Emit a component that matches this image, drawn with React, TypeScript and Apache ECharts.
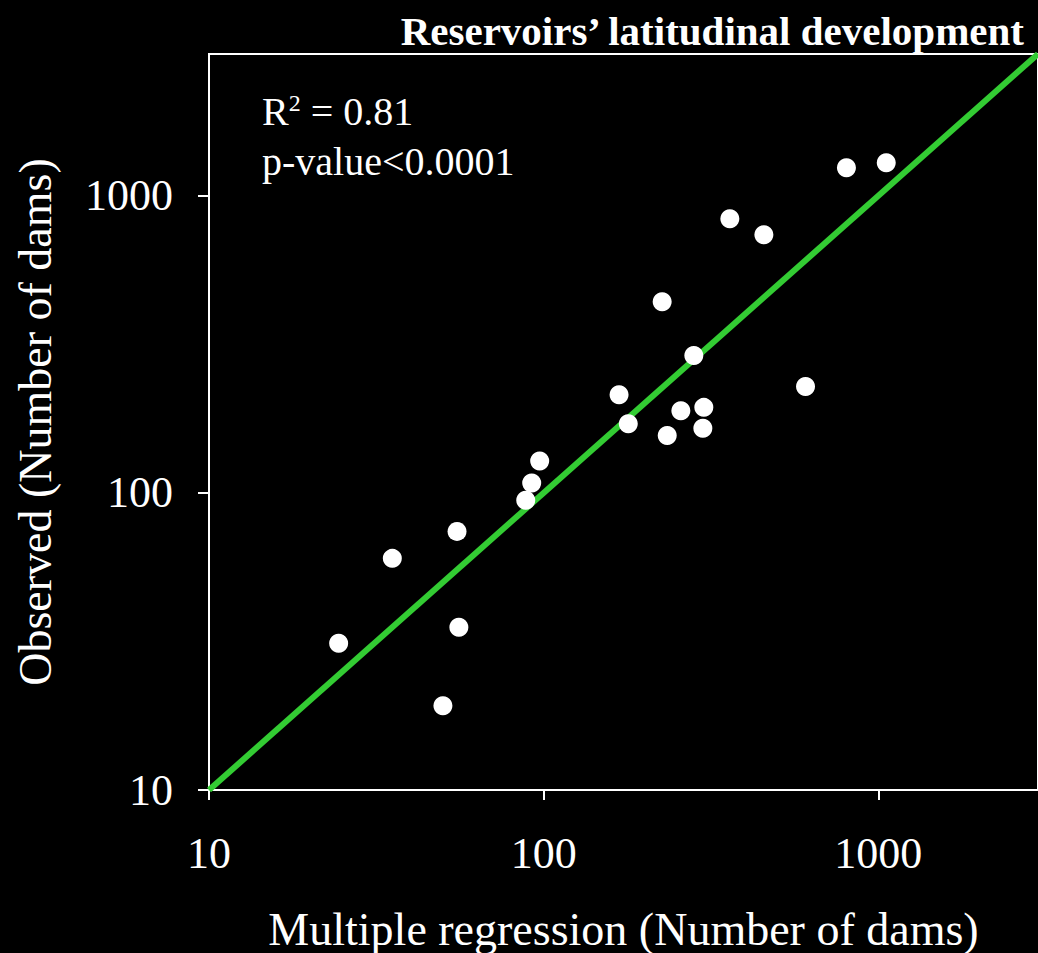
import React, { useEffect, useRef } from "react";
import * as echarts from "echarts";

const predicted = [24.4, 35.3, 50.0, 55.1, 55.8, 88.4, 92.1, 97.3, 168, 179, 234, 257, 301, 299, 281, 226, 360, 455, 606, 803, 1056];
const observed = [31.2, 60.2, 19.2, 74.2, 35.3, 94.4, 108, 128, 214, 171, 156, 189, 194, 165, 290, 440, 837, 739, 228, 1242, 1291];
const fitLine = [[10, 10], [3000, 3000]];
const tickValues = [10, 100, 1000];

const FONT = "'Liberation Serif', 'Times New Roman', serif";

export default function App() {
  const ref = useRef<HTMLDivElement>(null);
  useEffect(() => {
    document.body.style.margin = "0";
    document.body.style.background = "#000";
    const chart = echarts.init(ref.current!, null, { renderer: "svg" });
    const points = predicted.map((x, i) => [x, observed[i]]);
    const fmt = (v: number) => String(Math.round(v));
    chart.setOption({
      animation: false,
      backgroundColor: "#000000",
      title: {
        text: "Reservoirs\u2019 latitudinal development",
        right: 6,
        top: 5,
        textStyle: { color: "#fff", fontFamily: FONT, fontWeight: "bold", fontSize: 41 },
      },
      grid: {
        left: 209,
        right: 0,
        top: 54,
        bottom: 163,
        outerBoundsMode: "none",
        containLabel: false,
        show: true,
        borderColor: "#fff",
        borderWidth: 2,
        backgroundColor: "transparent",
      },
      xAxis: {
        type: "log",
        logBase: 10,
        min: 10,
        max: 3000,
        name: "Multiple regression (Number of dams)",
        nameLocation: "middle",
        nameGap: 116,
        nameTextStyle: { color: "#fff", fontFamily: FONT, fontSize: 46 },
        axisLine: { lineStyle: { color: "#fff", width: 2 } },
        axisTick: { show: true, length: 10, lineStyle: { color: "#fff", width: 2 }, customValues: tickValues },
        axisLabel: { color: "#fff", fontFamily: FONT, fontSize: 44, margin: 41, customValues: tickValues, formatter: fmt },
        splitLine: { show: false },
        minorTick: { show: false },
      },
      yAxis: {
        type: "log",
        logBase: 10,
        min: 10,
        max: 3000,
        name: "Observed (Number of dams)",
        nameLocation: "middle",
        nameGap: 151,
        nameTextStyle: { color: "#fff", fontFamily: FONT, fontSize: 46 },
        axisLine: { lineStyle: { color: "#fff", width: 2 } },
        axisTick: { show: true, length: 11, lineStyle: { color: "#fff", width: 2 }, customValues: tickValues },
        axisLabel: { color: "#fff", fontFamily: FONT, fontSize: 44, margin: 36, customValues: tickValues, formatter: fmt },
        splitLine: { show: false },
      },
      series: [
        {
          type: "line",
          data: fitLine,
          symbol: "none",
          lineStyle: { color: "#33cc33", width: 6 },
          z: 2,
        },
        {
          type: "scatter",
          data: points,
          symbol: "circle",
          symbolSize: 19,
          itemStyle: { color: "#ffffff", opacity: 1 },
          z: 3,
        },
      ],
      graphic: [
        {
          type: "text",
          left: 262,
          top: 91,
          style: {
            text: "R{sup|2} = 0.81",
            fill: "#fff",
            font: `40px ${FONT}`,
            rich: { sup: { fontSize: 24, verticalAlign: "top", fill: "#fff", fontFamily: FONT, padding: [0, 0, 16, 0] } },
          },
        },
        {
          type: "text",
          left: 262,
          top: 141,
          style: { text: "p-value<0.0001", fill: "#fff", font: `40px ${FONT}` },
        },
      ],
    });
    return () => chart.dispose();
  }, []);
  return <div ref={ref} style={{ width: 1038, height: 953, background: "#000" }} />;
}
